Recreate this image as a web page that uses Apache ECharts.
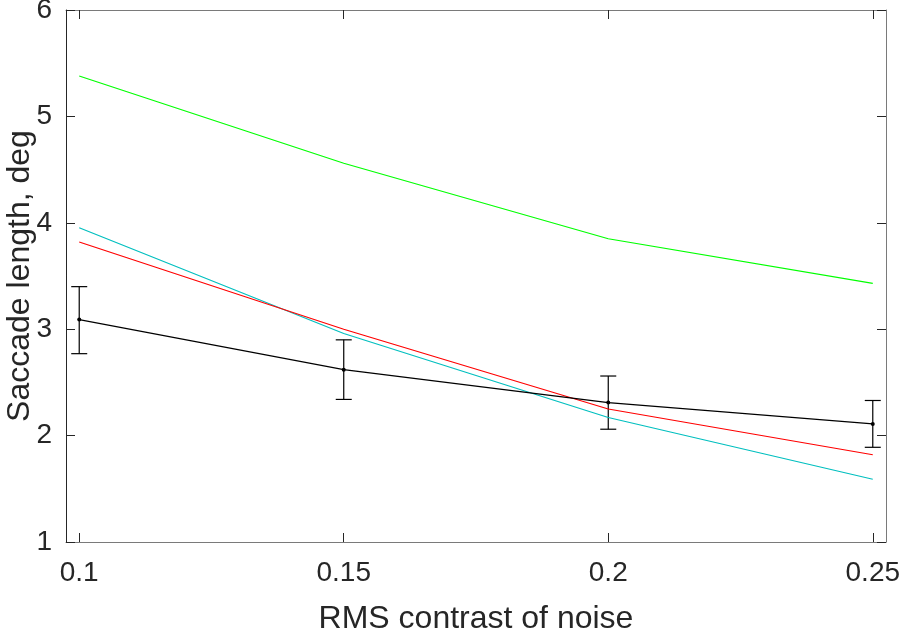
<!DOCTYPE html>
<html>
<head>
<meta charset="utf-8">
<script src="https://cdn.jsdelivr.net/npm/echarts@6/dist/echarts.min.js"></script>
<style>html,body{margin:0;padding:0;background:#fff;}#c{width:900px;height:632px;}</style>
</head>
<body>
<div id="c"></div>
<script>
const xValues = [0.1, 0.15, 0.2, 0.25];
const xTicks = [0.1, 0.15, 0.2, 0.25];
const yTicks = [1, 2, 3, 4, 5, 6];
const greenValues = [5.38, 4.56, 3.85, 3.43];
const redValues = [3.82, 3.00, 2.25, 1.82];
const cyanValues = [3.954, 2.96, 2.17, 1.59];
const blackValues = [3.09, 2.62, 2.31, 2.11];
const blackUpper = [3.40, 2.90, 2.56, 2.33];
const blackLower = [2.77, 2.34, 2.06, 1.89];

const FONT = 'Liberation Sans';
const pairs = v => xValues.map((x, i) => [x, v[i]]);
const errData = xValues.map((x, i) => [x, blackLower[i], blackUpper[i]]);

const axisCommon = {
  axisLine: {show: true, lineStyle: {color: '#7a7a7a', width: 1}},
  splitLine: {show: false}
};

const chart = echarts.init(document.getElementById('c'), null, {renderer: 'canvas'});
chart.setOption({
  animation: false,
  backgroundColor: '#fff',
  grid: {left: 66, right: 14, top: 10, bottom: 90, containLabel: false, outerBoundsMode: 'none'},
  xAxis: [
    Object.assign({}, axisCommon, {
      type: 'value', position: 'bottom', min: 0.0975, max: 0.2525,
      name: 'RMS contrast of noise', nameLocation: 'middle', nameGap: 61, nameMoveOverlap: false,
      nameTextStyle: {fontFamily: FONT, fontSize: 32, color: '#262626'},
      axisTick: {show: true, inside: true, length: 9, customValues: xTicks, lineStyle: {color: '#262626'}},
      axisLabel: {show: true, customValues: xTicks, margin: 17, fontFamily: FONT, fontSize: 28, color: '#262626',
        formatter: v => String(v)}
    }),
    Object.assign({}, axisCommon, {
      type: 'value', position: 'top', min: 0.0975, max: 0.2525,
      axisTick: {show: true, inside: true, length: 9, customValues: xTicks, lineStyle: {color: '#262626'}},
      axisLabel: {show: false}
    })
  ],
  yAxis: [
    Object.assign({}, axisCommon, {
      type: 'value', position: 'left', min: 1, max: 6, interval: 1,
      name: 'Saccade length, deg', nameLocation: 'middle', nameGap: 30, nameMoveOverlap: false,
      nameTextStyle: {fontFamily: FONT, fontSize: 32, color: '#262626'},
      axisLine: {show: true, lineStyle: {color: '#262626', width: 1}},
      axisTick: {show: true, inside: true, length: 9, customValues: yTicks, lineStyle: {color: '#262626'}},
      axisLabel: {show: true, customValues: yTicks, margin: 14, fontFamily: FONT, fontSize: 28, color: '#262626'}
    }),
    Object.assign({}, axisCommon, {
      type: 'value', position: 'right', min: 1, max: 6, interval: 1,
      axisTick: {show: true, inside: true, length: 9, customValues: yTicks, lineStyle: {color: '#262626'}},
      axisLabel: {show: false}
    })
  ],
  series: [
    {type: 'line', data: pairs(greenValues), symbol: 'none', lineStyle: {color: '#00ff00', width: 1.2}},
    {type: 'line', data: pairs(cyanValues), symbol: 'none', lineStyle: {color: '#00bfbf', width: 1.2}},
    {type: 'line', data: pairs(redValues), symbol: 'none', lineStyle: {color: '#ff0000', width: 1.2}},
    {type: 'line', data: pairs(blackValues), symbol: 'circle', symbolSize: 4,
      itemStyle: {color: '#000'}, lineStyle: {color: '#000', width: 1.2}},
    {
      type: 'custom', data: errData,
      renderItem: function (params, api) {
        const x = api.value(0);
        const lo = api.coord([x, api.value(1)]);
        const hi = api.coord([x, api.value(2)]);
        const hw = 8;
        const st = {stroke: '#000', lineWidth: 1.2};
        return {type: 'group', children: [
          {type: 'line', shape: {x1: lo[0], y1: lo[1], x2: hi[0], y2: hi[1]}, style: st},
          {type: 'line', shape: {x1: lo[0] - hw, y1: lo[1], x2: lo[0] + hw, y2: lo[1]}, style: st},
          {type: 'line', shape: {x1: hi[0] - hw, y1: hi[1], x2: hi[0] + hw, y2: hi[1]}, style: st}
        ]};
      },
      z: 3
    }
  ]
});
</script>
</body>
</html>
